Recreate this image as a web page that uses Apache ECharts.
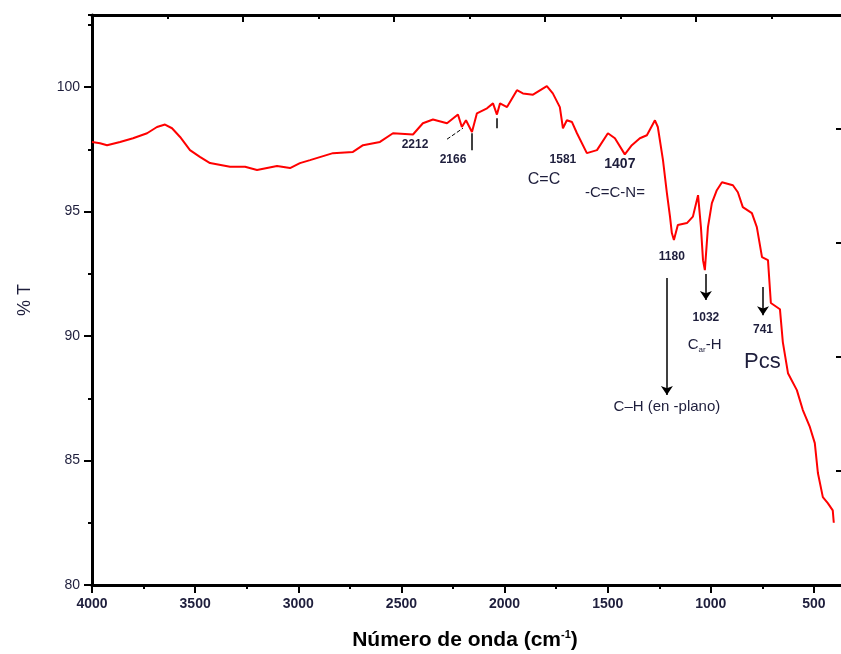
<!DOCTYPE html>
<html>
<head>
<meta charset="utf-8">
<script src="https://cdn.jsdelivr.net/npm/echarts@6/dist/echarts.min.js"></script>
<style>
    html, body { margin: 0; padding: 0; background: #fff; }
    #chart { width: 841px; height: 654px; }
</style>
</head>
<body>
<div id="chart"></div>
<script>
    // espectro IR
    var wavenumber = [4000,3961,3927,3864,3801,3733,3685,3646,3612,3573,3525,3477,3428,3331,3258,3200,3103,3040,2992,2943,
        2832,2735,2686,2604,2541,2444,2396,2347,2279,2226,2207,2187,2158,2134,2085,2056,2037,2022,1988,1940,
        1911,1862,1795,1766,1732,1717,1698,1673,1649,1601,1552,1499,1465,1417,1383,1344,1310,1271,1257,1232,
        1213,1198,1189,1179,1160,1116,1087,1062,1048,1038,1029,1014,995,971,946,893,869,845,801,777,
        752,723,709,665,651,626,583,554,520,496,481,457,433,409,404];
    var transmittance = [97.8,97.75,97.67,97.8,97.95,98.15,98.4,98.5,98.35,98.0,97.47,97.2,96.95,96.8,96.8,96.67,96.83,96.75,96.95,97.07,
        97.35,97.4,97.67,97.8,98.15,98.1,98.55,98.7,98.55,98.9,98.4,98.67,98.2,98.95,99.15,99.35,98.9,99.35,99.2,99.88,
        99.75,99.7,100.04,99.75,99.2,98.35,98.67,98.6,98.15,97.35,97.47,98.15,97.95,97.3,97.67,97.95,98.07,98.67,98.4,97.07,
        95.74,94.8,94.14,93.86,94.46,94.54,94.8,95.66,94.38,93.05,92.65,94.38,95.34,95.86,96.18,96.06,95.78,95.18,94.94,94.38,
        93.17,93.05,91.33,91.08,89.76,88.51,87.83,87.03,86.35,85.7,84.5,83.53,83.29,83.0,82.5];
    var xTicks = [4000, 3500, 3000, 2500, 2000, 1500, 1000, 500];
    var xMinorTicks = [3750, 3250, 2750, 2250, 1750, 1250, 750];
    var yTicks = [80, 85, 90, 95, 100];
    var topTicks = [1, 2, 3, 4];
    var topMinorTicks = [0.5, 1.5, 2.5, 3.5, 4.5];

    // anotaciones: [texto, numero de onda, %T]
    var peakLabels = [
        ['2212', 2434, 97.67],
        ['2166', 2250, 97.07],
        ['1581', 1717, 97.1],
        ['1180', 1189, 93.2],
        ['1032', 1024, 90.72],
        ['741', 747, 90.24]
    ];

    var txtColor = '#1e1e3c';
    var seriesData = wavenumber.map(function (w, i) { return [w, transmittance[i]]; });

    var markPoints = peakLabels.map(function (p) {
        return {name: p[0], coord: [p[1], p[2]],
            label: {fontSize: 12, fontWeight: 'bold'}};
    });
    markPoints.push({name: '1407', coord: [1441, 96.9], label: {fontSize: 14, fontWeight: 'bold'}});
    markPoints.push({name: 'C=C', coord: [1809, 96.3], label: {fontSize: 16}});
    markPoints.push({name: '-C=C-N=', coord: [1465, 95.74], label: {fontSize: 15}});
    markPoints.push({name: 'C–H (en -plano)', coord: [1213, 87.15], label: {fontSize: 15}});
    markPoints.push({name: 'car', coord: [1030, 89.64], label: {
        formatter: '{n|C}{s|ar}{n|-H}',
        rich: {n: {fontSize: 15, color: txtColor}, s: {fontSize: 8, color: txtColor, padding: [10, 0, 0, 0]}}
    }});
    markPoints.push({name: 'Pcs', coord: [750, 88.96], label: {fontSize: 22}});

    var tickStyle = {color: '#000', width: 2};

    var myChart = echarts.init(document.getElementById('chart'));
    var option = {
        animation: false,
        backgroundColor: '#fff',
        textStyle: {fontFamily: "'Liberation Sans', Arial, sans-serif"},
        grid: {left: 92, right: 0, top: 15, bottom: 69, containLabel: false},
        xAxis: [{
            type: 'value',
            position: 'bottom',
            inverse: true,
            min: 369,
            max: 4000,
            axisLine: {lineStyle: {color: '#000', width: 3}},
            axisTick: {length: 8, lineStyle: tickStyle, customValues: xTicks},
            splitLine: {show: false},
            axisLabel: {
                color: txtColor, fontSize: 14, fontWeight: 'bold', margin: 12, customValues: xTicks,
                formatter: function (v) { return String(v); }
            }
        }, {
            // ticks menores eje x
            type: 'value',
            position: 'bottom',
            inverse: true,
            min: 369,
            max: 4000,
            axisLine: {show: false},
            axisTick: {length: 4, lineStyle: tickStyle, customValues: xMinorTicks},
            splitLine: {show: false},
            axisLabel: {show: false}
        }, {
            // eje superior
            type: 'value',
            position: 'top',
            min: 0,
            max: 4.96,
            axisLine: {lineStyle: {color: '#000', width: 3}},
            axisTick: {inside: true, length: 7, lineStyle: tickStyle, customValues: topTicks},
            splitLine: {show: false},
            axisLabel: {show: false}
        }, {
            type: 'value',
            position: 'top',
            min: 0,
            max: 4.96,
            axisLine: {show: false},
            axisTick: {inside: true, length: 4, lineStyle: tickStyle, customValues: topMinorTicks},
            splitLine: {show: false},
            axisLabel: {show: false}
        }],
        yAxis: [{
            type: 'value',
            position: 'left',
            min: 80,
            max: 102.9,
            interval: 5,
            name: '% T',
            nameLocation: 'middle',
            nameRotate: 90,
            nameGap: 58,
            nameTextStyle: {color: txtColor, fontSize: 18},
            axisLine: {lineStyle: {color: '#000', width: 3}},
            axisTick: {length: 8, lineStyle: tickStyle, customValues: yTicks},
            splitLine: {show: false},
            axisLabel: {color: txtColor, fontSize: 14, margin: 12, customValues: yTicks}
        }, {
            // ticks menores del eje y
            type: 'value',
            position: 'left',
            min: 80,
            max: 102.9,
            interval: 2.5,
            axisLine: {show: false},
            axisTick: {length: 4, lineStyle: tickStyle},
            splitLine: {show: false},
            axisLabel: {show: false}
        }, {
            // ticks del lado derecho
            type: 'value',
            position: 'right',
            min: 0,
            max: 5,
            interval: 1,
            axisLine: {show: false},
            axisTick: {inside: true, length: 5, lineStyle: tickStyle},
            splitLine: {show: false},
            axisLabel: {show: false}
        }],
        graphic: [{
            type: 'text',
            x: 465,
            y: 640,
            style: {
                text: '{b|Número de onda (cm}{sup|-1}{b|)}',
                textAlign: 'center',
                textVerticalAlign: 'middle',
                rich: {
                    b: {fontSize: 21, fontWeight: 'bold', color: '#111',
                        fontFamily: "'Liberation Sans Narrow', 'Liberation Sans', sans-serif"},
                    sup: {fontSize: 11, fontWeight: 'bold', color: '#111', padding: [0, 0, 10, 0],
                        fontFamily: "'Liberation Sans Narrow', 'Liberation Sans', sans-serif"}
                }
            }
        }],
        series: [{
            type: 'line',
            xAxisIndex: 0,
            yAxisIndex: 0,
            data: seriesData,
            showSymbol: false,
            symbol: 'none',
            lineStyle: {color: '#ff0000', width: 2},
            markLine: {
                silent: true,
                symbol: ['none', 'none'],
                label: {show: false},
                lineStyle: {color: '#000', width: 1.5, type: 'solid'},
                data: [
                    [{coord: [2279, 97.91], lineStyle: {type: 'dashed', width: 1}}, {coord: [2202, 98.35]}],
                    [{coord: [2158, 98.15]}, {coord: [2158, 97.47]}],
                    [{coord: [2037, 98.75]}, {coord: [2037, 98.35]}],
                    [{coord: [1213, 92.33], symbol: 'none'}, {coord: [1213, 87.63], symbol: 'arrow', symbolSize: 9}],
                    [{coord: [1024, 92.49], symbol: 'none'}, {coord: [1024, 91.45], symbol: 'arrow', symbolSize: 9}],
                    [{coord: [747, 91.97], symbol: 'none'}, {coord: [747, 90.84], symbol: 'arrow', symbolSize: 9}]
                ]
            },
            markPoint: {
                silent: true,
                symbol: 'rect',
                symbolSize: 1,
                itemStyle: {color: 'rgba(0,0,0,0)'},
                label: {show: true, position: 'inside', formatter: '{b}', color: txtColor},
                data: markPoints
            }
        }]
    };
    myChart.setOption(option);
</script>
</body>
</html>
